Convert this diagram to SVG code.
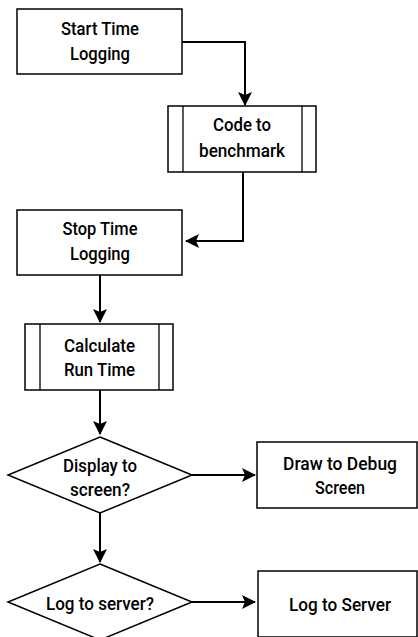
<svg xmlns="http://www.w3.org/2000/svg" width="418" height="637" viewBox="0 0 418 637">
<style>
.box{fill:#fff;stroke:#000;stroke-width:1.5}
.ln{fill:none;stroke:#000;stroke-width:1.3}
.c{fill:none;stroke:#000;stroke-width:2}
text{font-family:Roboto,"Liberation Sans",sans-serif;font-weight:500;font-size:18.5px;text-anchor:middle;fill:#000}
</style>
<defs>
<marker id="ah" viewBox="0 0 14 14" refX="13" refY="7" markerWidth="14" markerHeight="14" markerUnits="userSpaceOnUse" orient="auto">
<path d="M0,0 L14,7 L0,14 L3,7 Z" fill="#000"/>
</marker>
</defs>
<g id="connectors">
<path class="c" d="M182,42 H245 V105" marker-end="url(#ah)"/>
<path class="c" d="M243,172 V241 H186" marker-end="url(#ah)"/>
<path class="c" d="M100,275 V322" marker-end="url(#ah)"/>
<path class="c" d="M100,390 V434" marker-end="url(#ah)"/>
<path class="c" d="M192,475 H255" marker-end="url(#ah)"/>
<path class="c" d="M100,513 V562" marker-end="url(#ah)"/>
<path class="c" d="M192,602 H255" marker-end="url(#ah)"/>
</g>
<g id="start">
<rect class="box" x="17" y="9" width="165" height="65"/>
<text x="100" y="35" textLength="78" lengthAdjust="spacingAndGlyphs">Start Time</text>
<text x="100" y="60" textLength="60" lengthAdjust="spacingAndGlyphs">Logging</text>
</g>
<g id="code">
<rect class="box" x="168" y="106" width="148" height="66"/>
<line class="ln" x1="183" y1="106" x2="183" y2="172"/>
<line class="ln" x1="302" y1="106" x2="302" y2="172"/>
<text x="242" y="131" textLength="58" lengthAdjust="spacingAndGlyphs">Code to</text>
<text x="242" y="157" textLength="86" lengthAdjust="spacingAndGlyphs">benchmark</text>
</g>
<g id="stop">
<rect class="box" x="17" y="210" width="165" height="65"/>
<text x="100" y="235" textLength="75" lengthAdjust="spacingAndGlyphs">Stop Time</text>
<text x="100" y="260" textLength="60" lengthAdjust="spacingAndGlyphs">Logging</text>
</g>
<g id="calc">
<rect class="box" x="25" y="324" width="148" height="66"/>
<line class="ln" x1="40" y1="324" x2="40" y2="390"/>
<line class="ln" x1="159" y1="324" x2="159" y2="390"/>
<text x="99.5" y="352" textLength="71" lengthAdjust="spacingAndGlyphs">Calculate</text>
<text x="99.5" y="376" textLength="71" lengthAdjust="spacingAndGlyphs">Run Time</text>
</g>
<g id="display">
<path class="box" d="M100,437 L192,475 L100,513 L8,475 Z"/>
<text x="100" y="472" textLength="74" lengthAdjust="spacingAndGlyphs">Display to</text>
<text x="100" y="496" textLength="60" lengthAdjust="spacingAndGlyphs">screen?</text>
</g>
<g id="debug">
<rect class="box" x="257" y="442" width="160" height="66"/>
<text x="340" y="470" textLength="114" lengthAdjust="spacingAndGlyphs">Draw to Debug</text>
<text x="340" y="494" textLength="50" lengthAdjust="spacingAndGlyphs">Screen</text>
</g>
<g id="logq">
<path class="box" d="M100,564 L192,602 L100,640 L8,602 Z"/>
<text x="100" y="610" textLength="108" lengthAdjust="spacingAndGlyphs">Log to server?</text>
</g>
<g id="logserver">
<rect class="box" x="258" y="571" width="159" height="66"/>
<text x="340" y="611" textLength="102" lengthAdjust="spacingAndGlyphs">Log to Server</text>
</g>
</svg>
